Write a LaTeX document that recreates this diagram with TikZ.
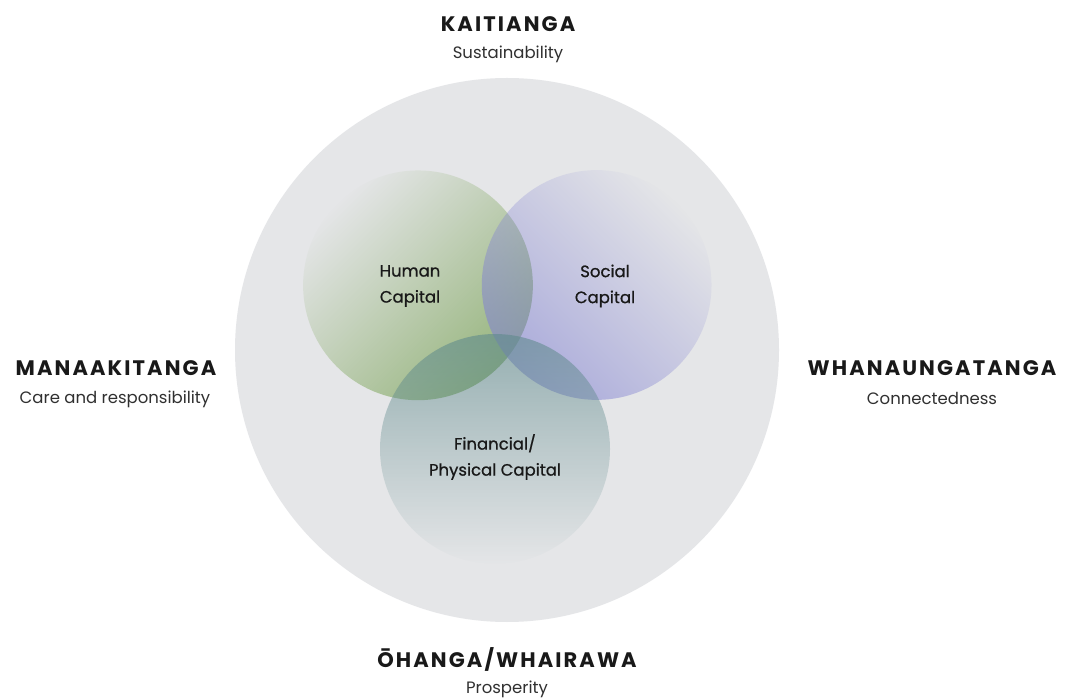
\documentclass[tikz,border=0pt]{standalone}
\usepackage{fontspec}
\setmainfont{Poppins}
\newfontfamily\headfont[LetterSpace=10]{Poppins}
\newfontfamily\labfont[FakeBold=0.8]{Poppins}
\usetikzlibrary{fadings}
\tikzfading[name=capfade, top color=transparent!100, bottom color=transparent!0]
\definecolor{bgcircle}{RGB}{229,230,232}
\definecolor{humangreen}{RGB}{125,165,90}
\definecolor{socialblue}{RGB}{130,130,210}
\definecolor{finteal}{RGB}{95,138,140}
\definecolor{txt}{RGB}{25,25,25}
\tikzset{
  heading/.style={font=\headfont\fontsize{21}{24}\selectfont\bfseries, text=txt, inner sep=0pt},
  sub/.style={font=\fontsize{16.5}{19}\selectfont, text=txt!90, inner sep=0pt},
  caplabel/.style={font=\labfont\fontsize{16.5}{26}\selectfont, text=txt, align=center, inner sep=0pt},
}
\begin{document}
\begin{tikzpicture}[x=1pt,y=-1pt]
\useasboundingbox (0,0) rectangle (1066,700);
\fill[white] (0,0) rectangle (1066,700);
% big circle
\fill[bgcircle] (507,350) circle (272);
% capital circles
\fill[humangreen, fill opacity=0.75, path fading=capfade, fading angle=45] (418,285) circle (115);
\fill[socialblue, fill opacity=0.6, path fading=capfade, fading angle=-45] (597,285) circle (115);
\fill[finteal, fill opacity=0.6, path fading=capfade, fading angle=180] (495,449) circle (115);
% labels
\node[caplabel] (human) at (410,286) {Human\\Capital};
\node[caplabel] (social) at (605,286) {Social\\Capital};
\node[caplabel] (fin) at (495,457) {Financial/\\Physical Capital};
% headings
\node[heading] (kai) at (508,24) {KAITIANGA};
\node[sub] (kaisub) at (508,54) {Sustainability};
\node[heading] (mana) at (116,368) {MANAAKITANGA};
\node[sub] (manasub) at (115,399) {Care and responsibility};
\node[heading] (wha) at (932,368) {WHANAUNGATANGA};
\node[sub] (whasub) at (932,398) {Connectedness};
\node[heading] (oha) at (507,659) {ŌHANGA/WHAIRAWA};
\node[sub] (ohasub) at (507,689) {Prosperity};
\end{tikzpicture}
\end{document}
